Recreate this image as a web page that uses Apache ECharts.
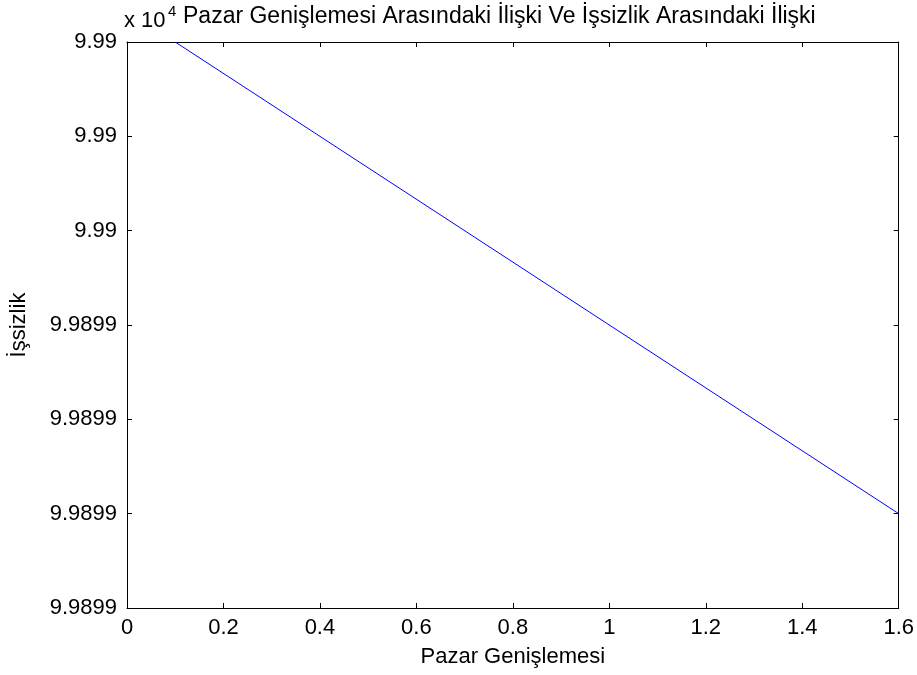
<!DOCTYPE html>
<html>
<head>
<meta charset="utf-8">
<script src="https://cdn.jsdelivr.net/npm/echarts@6/dist/echarts.min.js"></script>
<style>
  html, body { margin: 0; padding: 0; background: #fff; }
  #chart { width: 917px; height: 675px; }
</style>
</head>
<body>
<div id="chart"></div>
<script>
// data
const xValues = [0.1, 1.6]
const issizlik = [99900.0, 99899.0]
const xTicks = { min: 0, max: 1.6, step: 0.2 }
const yTicks = { min: 99898.8, max: 99900.0, step: 0.2 }
const titleText = 'Pazar Genişlemesi Arasındaki İlişki Ve İşsizlik Arasındaki İlişki'
const xName = 'Pazar Genişlemesi'
const yName = 'İşsizlik'

const font = 'Liberation Sans'
const fs = 22

const chart = echarts.init(document.getElementById('chart'))

const tickStyle = {
    show: true,
    inside: true,
    length: 5,
    lineStyle: { color: '#000', width: 1 }
}
const lineStyle = { show: true, onZero: false, lineStyle: { color: '#000', width: 1 } }

const yFmt = v => parseFloat((v / 1e4).toPrecision(5)).toString()

chart.setOption({
    animation: false,
    backgroundColor: '#fff',
    textStyle: { fontFamily: font },
    grid: { left: 124, right: 17, top: 42, bottom: 67 },
    graphic: [
        {
            type: 'text',
            left: 124,
            top: 10,
            style: { text: 'x 10', font: fs + 'px "' + font + '"', fill: '#000' }
        },
        {
            type: 'text',
            left: 168,
            top: 4,
            style: { text: '4', font: '15px "' + font + '"', fill: '#000' }
        },
        {
            type: 'text',
            left: 183,
            top: 5,
            style: { text: titleText, font: '23px "' + font + '"', fill: '#000' }
        }
    ],
    xAxis: [
        {
            type: 'value',
            min: xTicks.min,
            max: xTicks.max,
            interval: xTicks.step,
            position: 'bottom',
            name: xName,
            nameLocation: 'middle',
            nameGap: 38,
            nameTextStyle: { color: '#000', fontSize: fs, fontFamily: font },
            axisLine: lineStyle,
            axisTick: tickStyle,
            splitLine: { show: false },
            axisLabel: {
                color: '#000',
                fontSize: fs,
                fontFamily: font,
                margin: 9,
                formatter: v => parseFloat(v.toFixed(1)).toString()
            }
        },
        {
            type: 'value',
            min: xTicks.min,
            max: xTicks.max,
            interval: xTicks.step,
            position: 'top',
            axisLine: lineStyle,
            axisTick: tickStyle,
            splitLine: { show: false },
            axisLabel: { show: false }
        }
    ],
    yAxis: [
        {
            type: 'value',
            min: yTicks.min,
            max: yTicks.max,
            interval: yTicks.step,
            position: 'left',
            name: yName,
            nameLocation: 'middle',
            nameGap: 97,
            nameRotate: 90,
            nameTextStyle: { color: '#000', fontSize: fs, fontFamily: font },
            axisLine: lineStyle,
            axisTick: tickStyle,
            splitLine: { show: false },
            axisLabel: {
                color: '#000',
                fontSize: fs,
                fontFamily: font,
                margin: 10,
                formatter: yFmt
            }
        },
        {
            type: 'value',
            min: yTicks.min,
            max: yTicks.max,
            interval: yTicks.step,
            position: 'right',
            axisLine: lineStyle,
            axisTick: tickStyle,
            splitLine: { show: false },
            axisLabel: { show: false }
        }
    ],
    series: [
        {
            type: 'line',
            data: xValues.map((x, i) => [x, issizlik[i]]),
            showSymbol: false,
            lineStyle: { color: '#0000ff', width: 1 }
        }
    ]
})
</script>
</body>
</html>
